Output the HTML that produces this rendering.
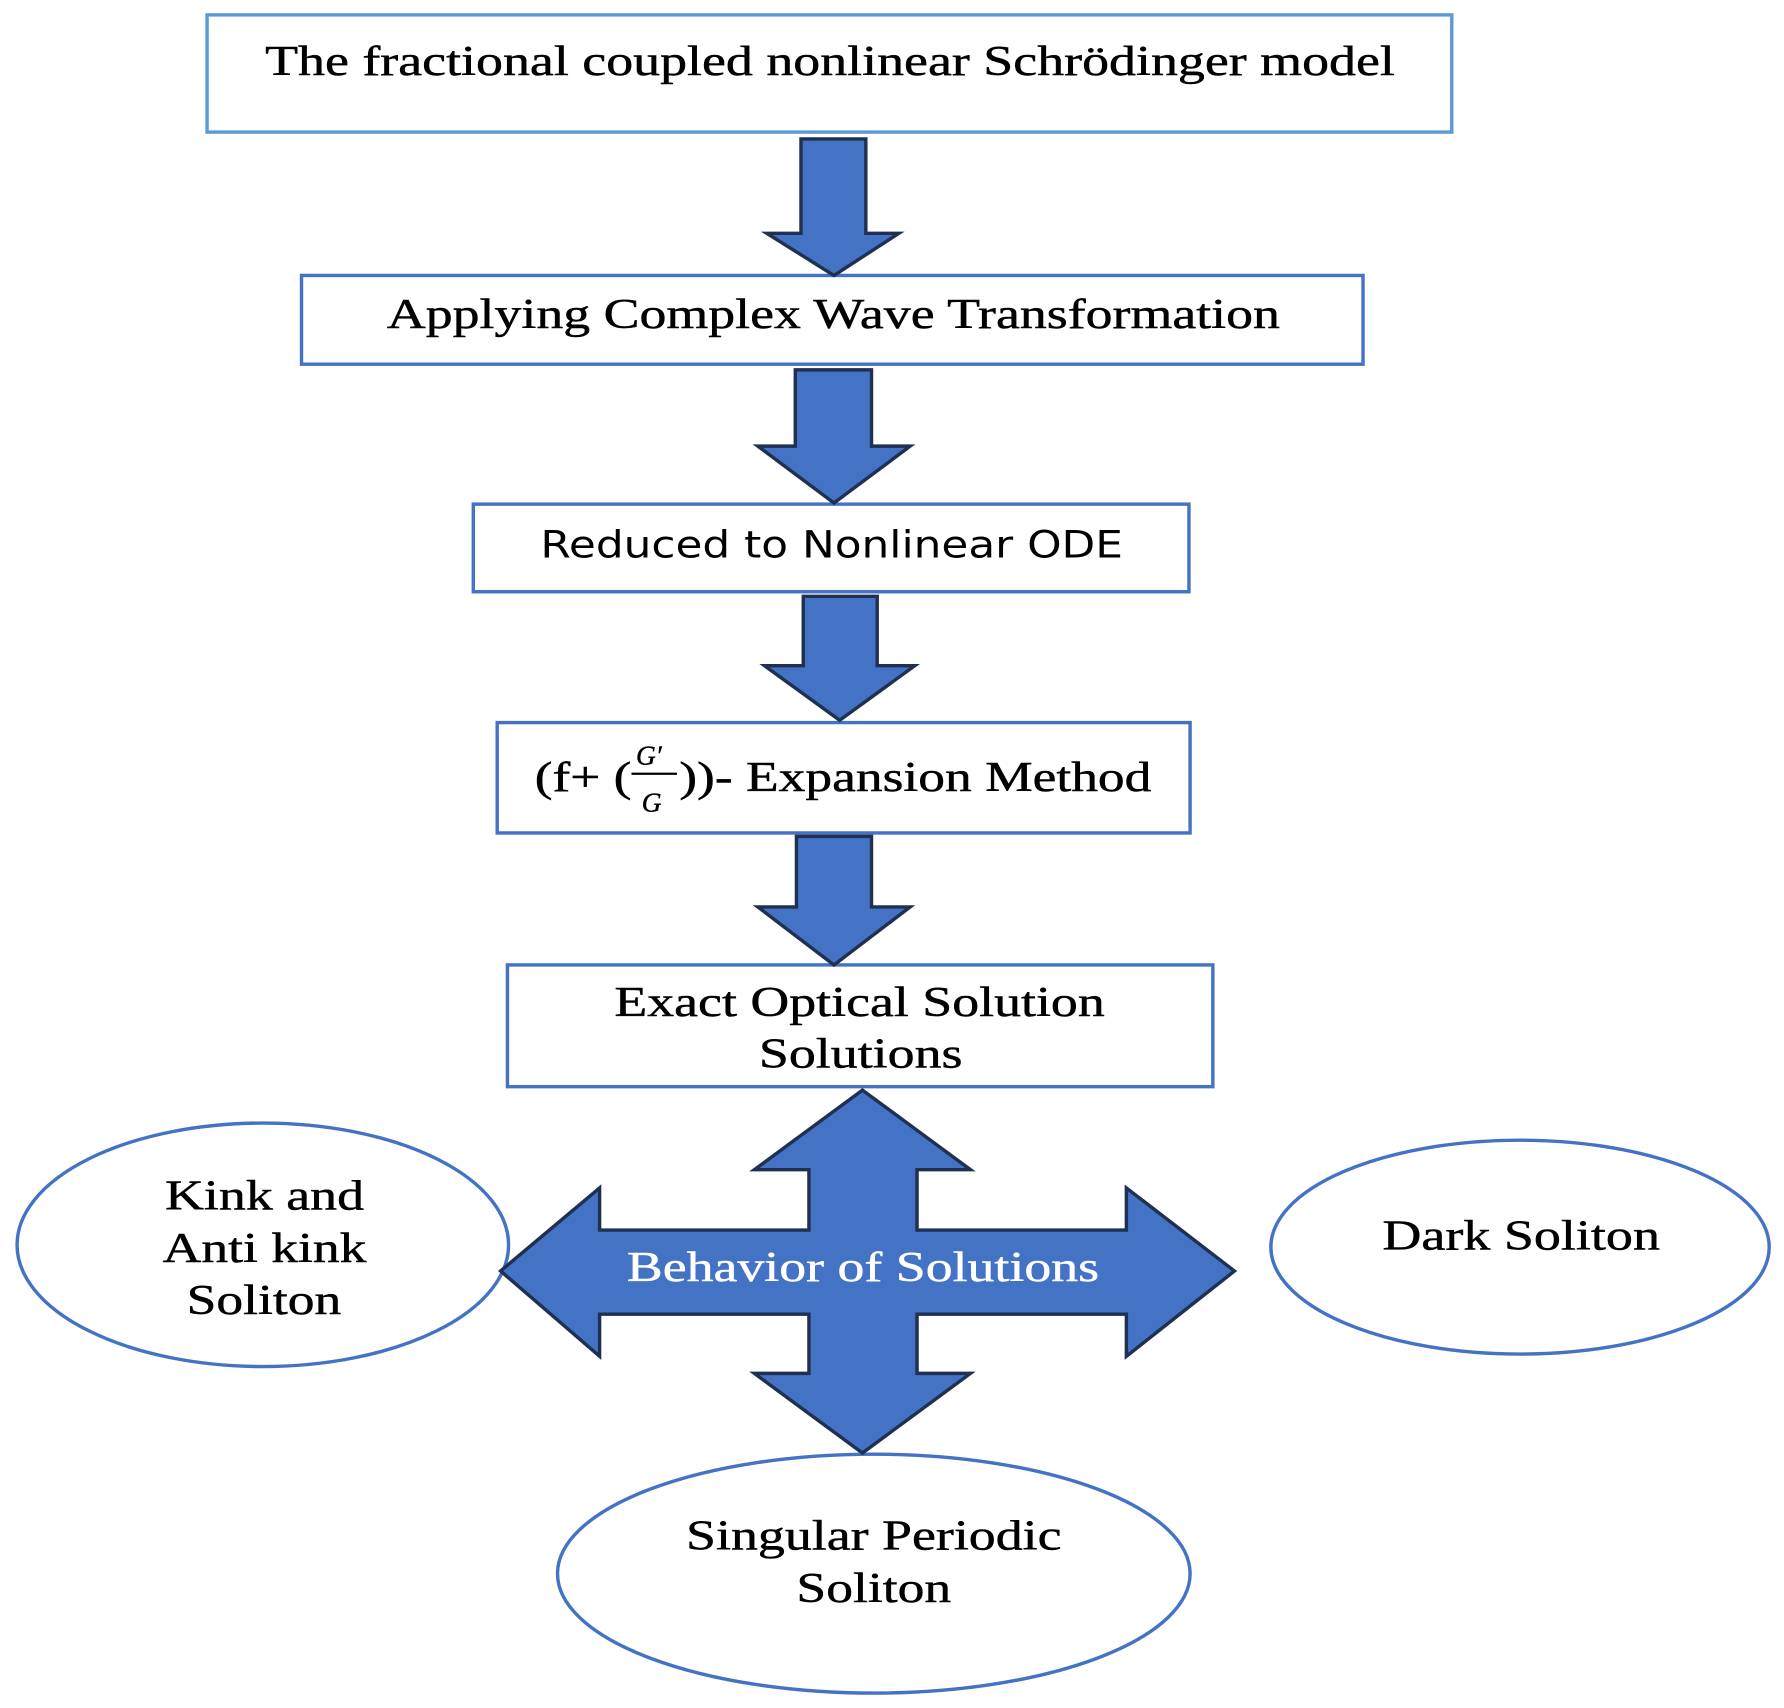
<!DOCTYPE html>
<html><head><meta charset="utf-8"><style>
html,body{margin:0;padding:0;background:#fff;}
svg{display:block;}
.s{font-family:"Liberation Serif",serif;fill:#000;stroke:#000;stroke-width:0.4;}
</style></head><body>
<svg width="1784" height="1708" viewBox="0 0 1568 1501" xmlns="http://www.w3.org/2000/svg">
<g fill="#fff" stroke="#4472C4" stroke-width="3">
<rect x="182" y="13" width="1094" height="103" stroke="#5B9BD5"/>
<rect x="265" y="242" width="933" height="78"/>
<rect x="416" y="443" width="629" height="77"/>
<rect x="437" y="635" width="609" height="97"/>
<rect x="446" y="848" width="620" height="107"/>
<ellipse cx="231" cy="1094" rx="216" ry="107"/>
<ellipse cx="1336" cy="1096" rx="219" ry="94"/>
<ellipse cx="768" cy="1383" rx="278" ry="105"/>
</g>
<g fill="#4472C4" stroke="#1F3050" stroke-width="3" stroke-linejoin="miter">
<polygon points="704,122 761,122 761,205 790,205 733,242 674,205 704,205"/>
<polygon points="699,325 766,325 766,392 800,392 733,442 666,392 699,392"/>
<polygon points="706,524 771,524 771,585 804,585 738,633 672,585 706,585"/>
<polygon points="700,735 766,735 766,797 800,797 733,848 666,797 700,797"/>
<polygon points="758,958 853,1028 806,1028 806,1081 990,1081 990,1044 1085,1117 990,1192 990,1155 806,1155 806,1207 853,1207 758,1277 663,1207 711,1207 711,1155 527,1155 527,1192 440,1117 527,1044 527,1081 711,1081 711,1028 663,1028"/>
</g>
<g class="s" font-size="37">
<text x="233" y="66" textLength="993" lengthAdjust="spacingAndGlyphs">The fractional coupled nonlinear Schrödinger model</text>
<text x="340" y="288" textLength="785" lengthAdjust="spacingAndGlyphs">Applying Complex Wave Transformation</text>
<text x="470" y="695" textLength="85" lengthAdjust="spacingAndGlyphs">(f+ (</text>
<text x="597" y="695" textLength="415" lengthAdjust="spacingAndGlyphs">))- Expansion Method</text>
<text x="540" y="893" textLength="431" lengthAdjust="spacingAndGlyphs">Exact Optical Solution</text>
<text x="667" y="938" textLength="179" lengthAdjust="spacingAndGlyphs">Solutions</text>
<text x="551" y="1126" textLength="415" lengthAdjust="spacingAndGlyphs" style="fill:#fff;stroke:#fff">Behavior of Solutions</text>
<text x="145" y="1063" textLength="175" lengthAdjust="spacingAndGlyphs">Kink and</text>
<text x="143" y="1109" textLength="179" lengthAdjust="spacingAndGlyphs">Anti kink</text>
<text x="164" y="1155" textLength="136" lengthAdjust="spacingAndGlyphs">Soliton</text>
<text x="1215" y="1098" textLength="244" lengthAdjust="spacingAndGlyphs">Dark Soliton</text>
<text x="603" y="1362" textLength="330" lengthAdjust="spacingAndGlyphs">Singular Periodic</text>
<text x="700" y="1408" textLength="136" lengthAdjust="spacingAndGlyphs">Soliton</text>
</g>
<text x="475" y="490" font-size="33" textLength="512" lengthAdjust="spacingAndGlyphs" font-family="'DejaVu Sans','Liberation Sans',sans-serif">Reduced to Nonlinear ODE</text>
<text class="s" x="559" y="672" font-size="24" font-style="italic">G′</text>
<line x1="555" y1="680" x2="595" y2="680" stroke="#000" stroke-width="2"/>
<text class="s" x="564" y="713" font-size="24" font-style="italic">G</text>
</svg>
</body></html>
